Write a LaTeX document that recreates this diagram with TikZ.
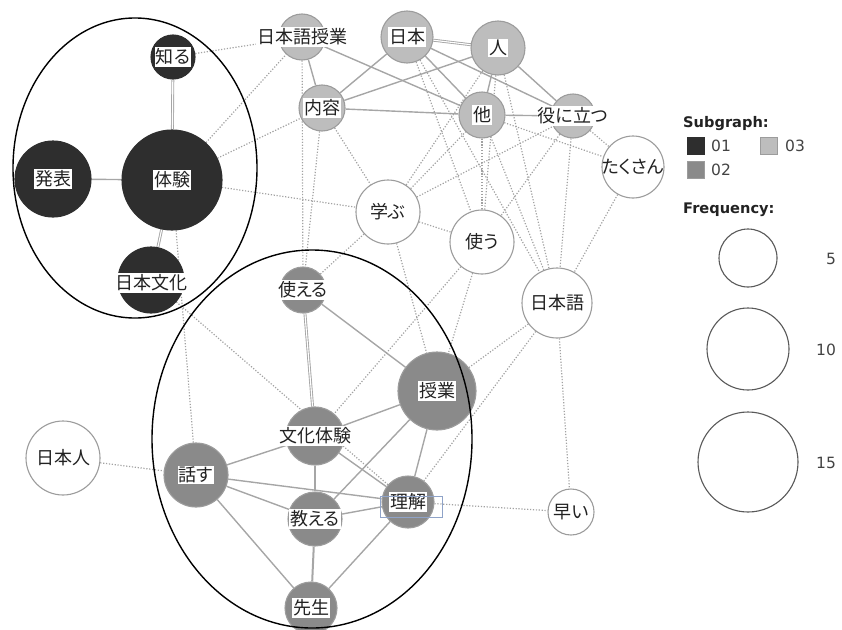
\documentclass[tikz,border=0pt]{standalone}
\usepackage{fontspec}
\setmainfont{Noto Sans CJK JP}[RawFeature={+palt}]
\newfontfamily\legfont{DejaVu Sans}
\usetikzlibrary{backgrounds}
\definecolor{cdark}{HTML}{2E2E2E}
\definecolor{cmed}{HTML}{8A8A8A}
\definecolor{clight}{HTML}{BDBDBD}
\definecolor{ringc}{HTML}{9C9C9C}
\definecolor{edgec}{HTML}{A6A6A6}
\definecolor{dotc}{HTML}{A2A2A2}
\definecolor{txt}{HTML}{222222}
\definecolor{boxblue}{HTML}{8FA3C8}
\tikzset{
 cn/.style={circle, inner sep=0pt, draw=ringc, line width=1.1pt},
 dk/.style={cn, fill=cdark, draw=cdark},
 md/.style={cn, fill=cmed},
 lt/.style={cn, fill=clight},
 wh/.style={cn, fill=white},
 lab/.style={fill=white, inner sep=1.3pt, text=txt, font=\fontsize{18}{20}\selectfont},
 sed/.style={draw=edgec, line width=1.4pt},
 sdbl/.style={draw=edgec, line width=0.9pt, double=white, double distance=1.1pt},
 ded/.style={draw=dotc, line width=1.2pt, dash pattern=on 1.2pt off 1.7pt},
 grp/.style={draw=black, line width=1.4pt},
 legh/.style={anchor=west, font=\legfont\bfseries\fontsize{14.6}{16}\selectfont, text=txt, inner sep=0pt},
 legt/.style={anchor=west, font=\legfont\fontsize{15.5}{17}\selectfont, text=txt!85!white, inner sep=0pt},
 sq/.style={draw=ringc, line width=0.8pt, minimum size=17pt, inner sep=0pt},
 fc/.style={circle, draw=black!65, line width=1.1pt, inner sep=0pt, fill=white},
}
\begin{document}
\begin{tikzpicture}[x=1pt,y=-1pt]
\useasboundingbox (0,0) rectangle (842,629);
% subgraph 01
\node[dk, minimum size=44pt] (shiru) at (173,57) {};
\node[dk, minimum size=100pt] (taiken) at (172,180) {};
\node[dk, minimum size=76pt] (happyo) at (53,179) {};
\node[dk, minimum size=66pt] (nbunka) at (151,280) {};
% subgraph 03
\node[lt, minimum size=46pt] (nkj) at (302,37) {};
\node[lt, minimum size=52pt] (nihon) at (407,37) {};
\node[lt, minimum size=54pt] (hito) at (498,48) {};
\node[lt, minimum size=46pt] (naiyo) at (322,108) {};
\node[lt, minimum size=46pt] (hoka) at (482,115) {};
\node[lt, minimum size=44pt] (yakuni) at (573,116) {};
% subgraph 02
\node[md, minimum size=46pt] (tsukaeru) at (303,290) {};
\node[md, minimum size=78pt] (jugyo) at (437,391) {};
\node[md, minimum size=58pt] (bunka) at (315,436) {};
\node[md, minimum size=64pt] (hanasu) at (196,475) {};
\node[md, minimum size=54pt] (oshieru) at (315,519) {};
\node[md, minimum size=52pt] (rikai) at (408,502) {};
\node[md, minimum size=52pt] (sensei) at (311,608) {};
% isolated (white)
\node[wh, minimum size=64pt] (manabu) at (388,212) {};
\node[wh, minimum size=64pt] (tsukau) at (482,242) {};
\node[wh, minimum size=70pt] (nihongo) at (557,303) {};
\node[wh, minimum size=62pt] (takusan) at (633,167) {};
\node[wh, minimum size=74pt] (nihonjin) at (63,458) {};
\node[wh, minimum size=46pt] (hayai) at (571,512) {};
% labels
\node[lab] (shiru-t) at (shiru) {知る};
\node[lab] (taiken-t) at (taiken) {体験};
\node[lab] (happyo-t) at (happyo) {発表};
\node[lab] (nbunka-t) at ([yshift=-3pt]nbunka.center) {日本文化};
\node[lab] (nkj-t) at (nkj) {日本語授業};
\node[lab] (nihon-t) at (nihon) {日本};
\node[lab] (hito-t) at (hito) {人};
\node[lab] (naiyo-t) at (naiyo) {内容};
\node[lab] (hoka-t) at (hoka) {他};
\node[lab] (yakuni-t) at (yakuni) {役に立つ};
\node[lab] (tsukaeru-t) at (tsukaeru) {使える};
\node[lab] (jugyo-t) at (jugyo) {授業};
\node[lab] (bunka-t) at (bunka) {文化体験};
\node[lab] (hanasu-t) at (hanasu) {話す};
\node[lab] (oshieru-t) at (oshieru) {教える};
\node[lab] (rikai-t) at (rikai) {理解};
\node[lab] (sensei-t) at (sensei) {先生};
\node[lab, fill=none] (manabu-t) at (manabu) {学ぶ};
\node[lab, fill=none] (tsukau-t) at (tsukau) {使う};
\node[lab, fill=none] (nihongo-t) at (nihongo) {日本語};
\node[lab, fill=none] (takusan-t) at (takusan) {たくさん};
\node[lab, fill=none] (nihonjin-t) at (nihonjin) {日本人};
\node[lab, fill=none] (hayai-t) at (hayai) {早い};
\node[draw=boxblue, line width=0.9pt, minimum width=62pt, minimum height=21pt, inner sep=0pt] (rikai-box) at (411,507) {};
% edges
\begin{scope}[on background layer]
% solid
\draw[sdbl] (shiru) -- (taiken);
\draw[sed] (happyo) -- (taiken);
\draw[sdbl] (taiken) -- (nbunka);
\draw[sdbl] (nkj) -- (nihon);
\draw[sed] (nkj) -- (naiyo);
\draw[sed] (nkj) -- (hoka);
\draw[sdbl] (nihon) -- (hito);
\draw[sed] (nihon) -- (naiyo);
\draw[sed] (nihon) -- (hoka);
\draw[sed] (nihon) -- (yakuni);
\draw[sed] (hito) -- (naiyo);
\draw[sed] (hito) -- (hoka);
\draw[sed] (hito) -- (yakuni);
\draw[sed] (naiyo) -- (hoka);
\draw[sed] (hoka) -- (yakuni);
\draw[sdbl] (tsukaeru) -- (bunka);
\draw[sed] (tsukaeru) -- (jugyo);
\draw[sed] (jugyo) -- (bunka);
\draw[sed] (jugyo) -- (oshieru);
\draw[sed] (jugyo) -- (rikai);
\draw[sed] (bunka) -- (hanasu);
\draw[sed, line width=2.6pt] (bunka) -- (oshieru);
\draw[sed] (bunka) -- (rikai);
\draw[sed] (hanasu) -- (rikai);
\draw[sed] (hanasu) -- (oshieru);
\draw[sed] (hanasu) -- (sensei);
\draw[sed] (oshieru) -- (rikai);
\draw[sed, line width=2pt] (oshieru) -- (sensei);
\draw[sed] (rikai) -- (sensei);
% dotted
\draw[ded] (shiru) -- (nkj);
\draw[ded] (taiken) -- (nkj);
\draw[ded] (taiken) -- (naiyo);
\draw[ded] (taiken) -- (manabu);
\draw[ded] (taiken) -- (hanasu);
\draw[ded] (nbunka) -- (rikai);
\draw[ded] (nkj) -- (tsukaeru);
\draw[ded] (naiyo) -- (tsukaeru);
\draw[ded] (naiyo) -- (manabu);
\draw[ded] (manabu) -- (tsukaeru);
\draw[ded] (manabu) -- (tsukau);
\draw[ded] (manabu) -- (jugyo);
\draw[ded] (manabu) -- (yakuni);
\draw[ded] (manabu) -- (hito);
\draw[ded] (manabu) -- (hoka);
\draw[ded] (nihon) -- (tsukau);
\draw[ded] (nihon) -- (nihongo);
\draw[ded] (hito) -- (tsukau);
\draw[ded] (hito) -- (nihongo);
\draw[ded] (hoka) -- (tsukau);
\draw[ded] (hoka) -- (nihongo);
\draw[ded] (hoka) -- (takusan);
\draw[ded] (yakuni) -- (tsukau);
\draw[ded] (yakuni) -- (nihongo);
\draw[ded] (yakuni) -- (takusan);
\draw[ded] (takusan) -- (nihongo);
\draw[ded] (tsukau) -- (bunka);
\draw[ded] (tsukau) -- (jugyo);
\draw[ded] (nihongo) -- (jugyo);
\draw[ded] (nihongo) -- (rikai);
\draw[ded] (nihongo) -- (hayai);
\draw[ded] (rikai) -- (hayai);
\draw[ded] (nihonjin) -- (hanasu);
\end{scope}
% subgraph ellipses
\draw[grp] (135,168) ellipse [x radius=122, y radius=150];
\draw[grp] (312,439) ellipse [x radius=160, y radius=189];
% legend
\node[legh] (subg) at (683,124) {Subgraph:};
\node[sq, fill=cdark, draw=cdark] (sq1) at (696,146) {};
\node[legt] (t01) at (711,146) {01};
\node[sq, fill=clight] (sq3) at (769,146) {};
\node[legt] (t03) at (785,146) {03};
\node[sq, fill=cmed] (sq2) at (696,170) {};
\node[legt] (t02) at (711,170) {02};
\node[legh] (freq) at (683,210) {Frequency:};
\node[fc, minimum size=58pt] (f5) at (748,258) {};
\node[legt] (t5) at (826,259) {5};
\node[fc, minimum size=82pt] (f10) at (748,349) {};
\node[legt] (t10) at (816,350) {10};
\node[fc, minimum size=100pt] (f15) at (748,462) {};
\node[legt] (t15) at (816,463) {15};
\end{tikzpicture}
\end{document}
